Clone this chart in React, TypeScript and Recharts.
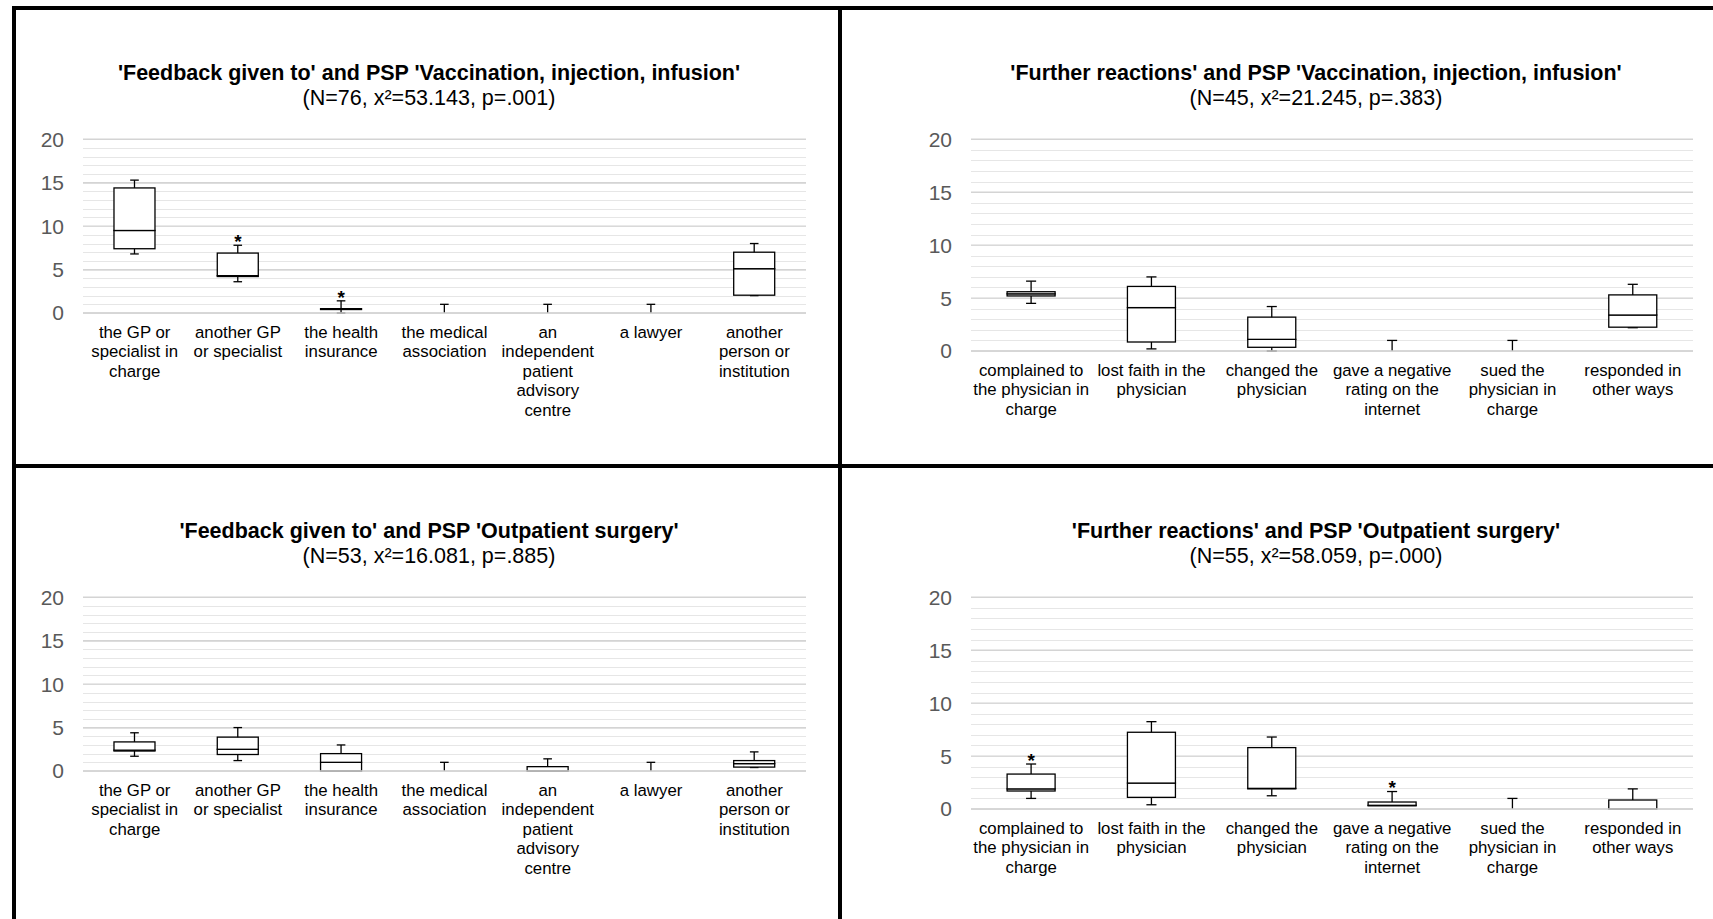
import React from 'react';
import { ComposedChart, Bar, Line, XAxis, YAxis, CartesianGrid } from 'recharts';

const FONT = "'Liberation Sans', Arial, sans-serif";
const INK = '#000000';

const majorTicks = [0, 5, 10, 15, 20];
const minorTicks = [0, 1, 2, 3, 4, 5, 6, 7, 8, 9, 10, 11, 12, 13, 14, 15, 16, 17, 18, 19, 20];

// x axis labels, one array of lines per category
const feedbackLabels = [
  ['the GP or', 'specialist in', 'charge'],
  ['another GP', 'or specialist'],
  ['the health', 'insurance'],
  ['the medical', 'association'],
  ['an', 'independent', 'patient', 'advisory', 'centre'],
  ['a lawyer'],
  ['another', 'person or', 'institution'],
];
const reactionLabels = [
  ['complained to', 'the physician in', 'charge'],
  ['lost faith in the', 'physician'],
  ['changed the', 'physician'],
  ['gave a negative', 'rating on the', 'internet'],
  ['sued the', 'physician in', 'charge'],
  ['responded in', 'other ways'],
];

// 'Feedback given to' / 'Vaccination, injection, infusion'
const vacFeedbackMin = [6.8, 3.6, 0, 0, 0, 0, 2.0];
const vacFeedbackQ1 = [7.4, 4.2, 0.4, 0, 0, 0, 2.05];
const vacFeedbackMedian = [9.5, 4.3, 0.5, 0, 0, 0, 5.1];
const vacFeedbackQ3 = [14.4, 6.9, 0.5, 0, 0, 0, 7.0];
const vacFeedbackMax = [15.3, 7.8, 1.4, 1, 1, 1, 8.0];
const vacFeedbackOutliers = [null, 8.7, 2.3, null, null, null, null];

// 'Further reactions' / 'Vaccination, injection, infusion'
const vacReactionMin = [4.5, 0.2, 0, 0, 0, 2.2];
const vacReactionQ1 = [5.2, 0.85, 0.35, 0, 0, 2.25];
const vacReactionMedian = [5.4, 4.1, 1.1, 0, 0, 3.4];
const vacReactionQ3 = [5.6, 6.1, 3.2, 0, 0, 5.3];
const vacReactionMax = [6.6, 7.0, 4.2, 1, 1, 6.3];
const vacReactionOutliers = [null, null, null, null, null, null];

// 'Feedback given to' / 'Outpatient surgery'
const surgFeedbackMin = [1.7, 1.2, 0, 0, 0, 0, 0.4];
const surgFeedbackQ1 = [2.3, 1.9, 0, 0, 0, 0, 0.45];
const surgFeedbackMedian = [2.4, 2.5, 1.0, 0, 0, 0, 0.85];
const surgFeedbackQ3 = [3.35, 3.9, 2.0, 0, 0.5, 0, 1.2];
const surgFeedbackMax = [4.4, 5.0, 3.0, 1, 1.4, 1, 2.2];
const surgFeedbackOutliers = [null, null, null, null, null, null, null];

// 'Further reactions' / 'Outpatient surgery'
const surgReactionMin = [1.0, 0.4, 1.25, 0.3, 0, 0];
const surgReactionQ1 = [1.7, 1.1, 1.9, 0.3, 0, 0];
const surgReactionMedian = [1.9, 2.45, 1.95, 0.35, 0, 0];
const surgReactionQ3 = [3.3, 7.25, 5.8, 0.66, 0, 0.85];
const surgReactionMax = [4.25, 8.25, 6.8, 1.65, 1, 1.9];
const surgReactionOutliers = [5.0, null, null, 2.5, null, null];

function buildRows(labels: string[][], min: number[], q1: number[], med: number[], q3: number[], max: number[], out: (number | null)[]) {
  return labels.map((l, i) => ({
    name: l.join('\n'),
    base: min[i],
    lowerWhisker: q1[i] - min[i],
    lowerBox: med[i] - q1[i],
    upperBox: q3[i] - med[i],
    upperWhisker: max[i] - q3[i],
    outlier: out[i],
  }));
}

// minor grid rows through the y axis scale, snapped to whole pixels so they stay crisp
function minorRows(args: any) {
  const scale = args?.yAxis?.scale;
  if (scale && typeof scale === 'function') {
    return minorTicks.map((v) => Math.round(scale(v)) + 0.5);
  }
  const off = args?.offset;
  if (!off) return [];
  return minorTicks.map((v) => Math.round(off.top + off.height * (1 - v / 20)) + 0.5);
}

const Empty = () => <g />;

function LowWhisker(props: any) {
  const { x, y, width, height } = props;
  if (!height || height <= 0) return <g />;
  const cx = x + width / 2;
  const cap = width * 0.21;
  return (
    <g>
      <line x1={cx} x2={cx} y1={y} y2={y + height} stroke={INK} strokeWidth={1.3} />
      <line x1={cx - cap / 2} x2={cx + cap / 2} y1={y + height} y2={y + height} stroke={INK} strokeWidth={1.3} />
    </g>
  );
}

function HighWhisker(props: any) {
  const { x, y, width, height } = props;
  if (!height || height <= 0) return <g />;
  const cx = x + width / 2;
  const cap = width * 0.21;
  return (
    <g>
      <line x1={cx} x2={cx} y1={y} y2={y + height} stroke={INK} strokeWidth={1.3} />
      <line x1={cx - cap / 2} x2={cx + cap / 2} y1={y} y2={y} stroke={INK} strokeWidth={1.3} />
    </g>
  );
}

function BoxPart(props: any) {
  const { x, y, width, height } = props;
  if (!height || height <= 0) return <g />;
  return <rect x={x} y={y} width={width} height={height} fill="#ffffff" stroke={INK} strokeWidth={1.3} />;
}

function StarDot(props: any) {
  const { cx, cy, value, index } = props;
  if (value == null || cy == null || isNaN(cy)) return <g key={'s' + index} />;
  return (
    <text key={'s' + index} x={cx} y={cy + 11} textAnchor="middle" fontSize={19} fontWeight="bold" fontFamily={FONT} fill={INK}>
      *
    </text>
  );
}

function CategoryTick(props: any) {
  const { x, y, payload } = props;
  const lines = String(payload.value).split('\n');
  return (
    <text x={x} y={y + 17} textAnchor="middle" fontSize={16.8} fontFamily={FONT} fill="#000000">
      {lines.map((l, i) => (
        <tspan key={i} x={x} dy={i === 0 ? 0 : 19.4}>{l}</tspan>
      ))}
    </text>
  );
}

type PanelProps = {
  title: string;
  subtitle: string;
  rows: any[];
  left: number;
  top: number;
  width: number;
  height: number;
  yAxisWidth: number;
  marginRight: number;
  xAxisHeight: number;
  titleX: number;
};

function BoxPanel(p: PanelProps) {
  return (
    <>
      <div style={{
        position: 'absolute', left: p.titleX - 400, top: p.top - 59, width: 800,
        textAlign: 'center', fontFamily: FONT, fontSize: 21.5, lineHeight: '25px', color: '#000',
      }}>
        <div style={{ fontWeight: 'bold' }}>{p.title}</div>
        <div>{p.subtitle}</div>
      </div>
      <div style={{ position: 'absolute', left: p.left, top: p.top }}>
        <ComposedChart
          width={p.width}
          height={p.height}
          data={p.rows}
          barCategoryGap="30%"
          margin={{ top: 19.3, right: p.marginRight, left: 0, bottom: 0 }}
        >
          {/* light line every unit, darker one every 5 */}
          <CartesianGrid vertical={false} horizontalCoordinatesGenerator={minorRows} stroke="#e6e6e6" strokeWidth={1} />
          <CartesianGrid vertical={false} stroke="#d4d4d4" strokeWidth={1.4} />
          <XAxis
            dataKey="name"
            interval={0}
            tickLine={false}
            axisLine={{ stroke: '#d4d4d4', strokeWidth: 1.6 }}
            height={p.xAxisHeight}
            tick={<CategoryTick />}
          />
          <YAxis
            domain={[0, 20]}
            ticks={majorTicks}
            width={p.yAxisWidth}
            axisLine={false}
            tickLine={false}
            tickMargin={13}
            tick={{ fill: '#595959', fontSize: 21, fontFamily: FONT }}
          />
          <Bar dataKey="base" stackId="box" fill="transparent" shape={Empty} isAnimationActive={false} />
          <Bar dataKey="lowerWhisker" stackId="box" shape={LowWhisker} isAnimationActive={false} />
          <Bar dataKey="lowerBox" stackId="box" shape={BoxPart} isAnimationActive={false} />
          <Bar dataKey="upperBox" stackId="box" shape={BoxPart} isAnimationActive={false} />
          <Bar dataKey="upperWhisker" stackId="box" shape={HighWhisker} isAnimationActive={false} />
          <Line dataKey="outlier" stroke="none" dot={StarDot} activeDot={false} isAnimationActive={false} />
        </ComposedChart>
      </div>
    </>
  );
}

export default function App() {
  const bar = (l: number, t: number, w: number, h: number) => (
    <div style={{ position: 'absolute', left: l, top: t, width: w, height: h, background: '#000' }} />
  );
  return (
    <div style={{ position: 'absolute', left: 0, top: 0, width: 1713, height: 919, background: '#fff', overflow: 'hidden' }}>
      {bar(12, 6, 1701, 4)}
      {bar(12, 6, 4, 913)}
      {bar(838, 6, 4, 913)}
      {bar(12, 464, 1701, 4)}
      <BoxPanel
        title="'Feedback given to' and PSP 'Vaccination, injection, infusion'"
        subtitle="(N=76, x²=53.143, p=.001)"
        rows={buildRows(feedbackLabels, vacFeedbackMin, vacFeedbackQ1, vacFeedbackMedian, vacFeedbackQ3, vacFeedbackMax, vacFeedbackOutliers)}
        left={20} top={120} width={800} height={313} yAxisWidth={63} marginRight={14} xAxisHeight={120} titleX={429}
      />
      <BoxPanel
        title="'Further reactions' and PSP 'Vaccination, injection, infusion'"
        subtitle="(N=45, x²=21.245, p=.383)"
        rows={buildRows(reactionLabels, vacReactionMin, vacReactionQ1, vacReactionMedian, vacReactionQ3, vacReactionMax, vacReactionOutliers)}
        left={900} top={120} width={813} height={321} yAxisWidth={71} marginRight={20} xAxisHeight={90} titleX={1316}
      />
      <BoxPanel
        title="'Feedback given to' and PSP 'Outpatient surgery'"
        subtitle="(N=53, x²=16.081, p=.885)"
        rows={buildRows(feedbackLabels, surgFeedbackMin, surgFeedbackQ1, surgFeedbackMedian, surgFeedbackQ3, surgFeedbackMax, surgFeedbackOutliers)}
        left={20} top={578} width={800} height={313} yAxisWidth={63} marginRight={14} xAxisHeight={120} titleX={429}
      />
      <BoxPanel
        title="'Further reactions' and PSP 'Outpatient surgery'"
        subtitle="(N=55, x²=58.059, p=.000)"
        rows={buildRows(reactionLabels, surgReactionMin, surgReactionQ1, surgReactionMedian, surgReactionQ3, surgReactionMax, surgReactionOutliers)}
        left={900} top={578} width={813} height={321} yAxisWidth={71} marginRight={20} xAxisHeight={90} titleX={1316}
      />
    </div>
  );
}
